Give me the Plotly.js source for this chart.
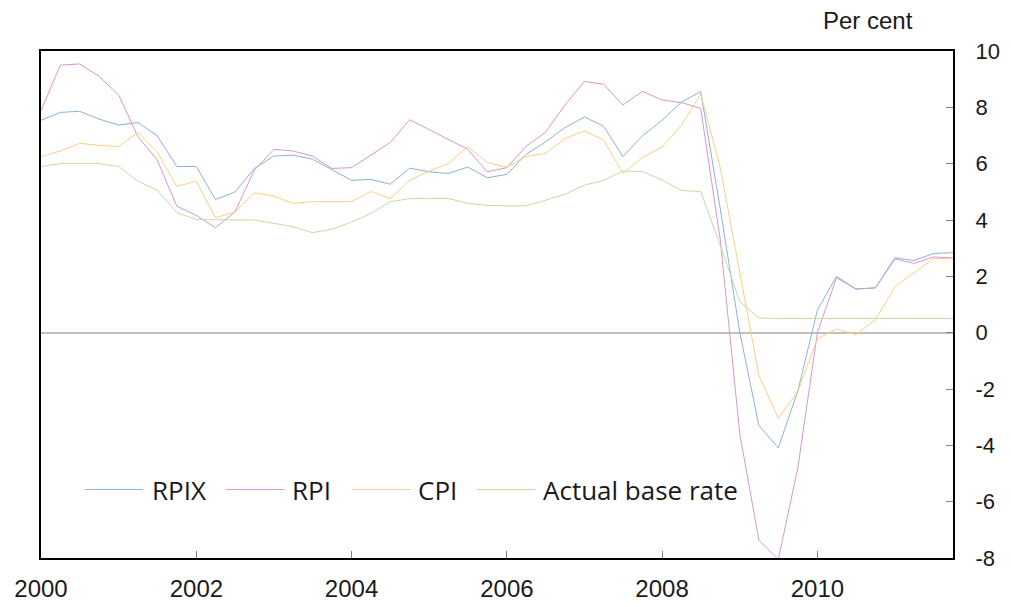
<!DOCTYPE html>
<html>
<head>
<meta charset="utf-8">
<script src="https://cdn.plot.ly/plotly-3.0.1.min.js"></script>
<style>html,body{margin:0;padding:0;background:#fff;}#chart{width:1011px;height:607px;}</style>
</head>
<body>
<div id="chart"></div>
<script>
// Quarterly observations, 2000 Q1 to 2011 Q4
var quarters = [
  '2000-01','2000-04','2000-07','2000-10','2001-01','2001-04','2001-07','2001-10',
  '2002-01','2002-04','2002-07','2002-10','2003-01','2003-04','2003-07','2003-10',
  '2004-01','2004-04','2004-07','2004-10','2005-01','2005-04','2005-07','2005-10',
  '2006-01','2006-04','2006-07','2006-10','2007-01','2007-04','2007-07','2007-10',
  '2008-01','2008-04','2008-07','2008-10','2009-01','2009-04','2009-07','2009-10',
  '2010-01','2010-04','2010-07','2010-10','2011-01','2011-04','2011-07','2011-10'
];
var rpix = [7.54,7.82,7.86,7.58,7.37,7.46,6.99,5.90,5.90,4.73,4.99,5.83,6.27,6.30,6.16,5.80,
            5.41,5.44,5.27,5.84,5.71,5.65,5.88,5.50,5.62,6.33,6.77,7.28,7.66,7.33,6.25,6.99,
            7.54,8.18,8.56,4.40,0.00,-3.30,-4.09,-2.07,0.80,2.00,1.55,1.59,2.66,2.56,2.81,2.84];
var rpi  = [7.88,9.50,9.54,9.10,8.43,6.96,6.13,4.49,4.16,3.73,4.28,5.77,6.51,6.45,6.27,5.83,
            5.86,6.30,6.75,7.56,7.21,6.87,6.51,5.71,5.86,6.61,7.11,8.08,8.92,8.82,8.08,8.57,
            8.26,8.17,7.96,3.30,-3.60,-7.37,-8.05,-4.80,0.00,1.95,1.55,1.59,2.62,2.46,2.69,2.65];
var cpi  = [6.25,6.45,6.72,6.65,6.61,7.11,6.42,5.19,5.38,4.08,4.28,4.97,4.85,4.59,4.65,4.65,
            4.65,5.01,4.76,5.41,5.74,6.00,6.61,6.04,5.88,6.25,6.36,6.89,7.16,6.84,5.66,6.22,
            6.59,7.37,8.47,5.86,2.15,-1.52,-3.04,-2.09,-0.22,0.13,-0.07,0.46,1.63,2.12,2.63,2.63];
var baseRate = [5.90,6.00,6.00,6.00,5.90,5.38,5.06,4.26,4.02,4.00,4.00,4.00,3.87,3.76,3.55,3.67,
                3.93,4.23,4.65,4.76,4.76,4.76,4.59,4.52,4.50,4.50,4.70,4.91,5.24,5.40,5.74,5.72,
                5.42,5.05,5.01,3.10,1.10,0.52,0.50,0.50,0.50,0.50,0.50,0.50,0.50,0.50,0.50,0.50];

var yTickVals = [-8,-6,-4,-2,0,2,4,6,8,10];
var yTickText = ['-8','-6','-4','-2','0','2','4','6','8','10'];

var seriesNames  = ['RPIX','RPI','CPI','Actual base rate'];
var seriesValues = [rpix, rpi, cpi, baseRate];
var seriesColors = ['#8db3d3','#d597d0','#f9cf83','#c3dca5'];

var traces = seriesNames.map(function(n, i){
  return {x: quarters, y: seriesValues[i], name: n, type: 'scatter', mode: 'lines',
          line: {color: seriesColors[i], width: 1}, showlegend: false};
});

// hand-placed legend keys (paper coordinates)
var legendLineX = [[0.048,0.112],[0.203,0.267],[0.341,0.405],[0.478,0.542]];
var legendTextX = [0.120,0.273,0.411,0.548];
var legendY = 0.135;
var shapes = [], annotations = [];
seriesNames.forEach(function(n, i){
  shapes.push({type:'line', xref:'paper', yref:'paper', x0:legendLineX[i][0], x1:legendLineX[i][1],
               y0:legendY, y1:legendY, line:{color:seriesColors[i], width:1}});
  annotations.push({xref:'paper', yref:'paper', x:legendTextX[i], y:legendY, xanchor:'left', yanchor:'middle',
                    text:n, showarrow:false, font:{family:'Open Sans, sans-serif', size:26, color:'#1a1a1a'}});
});
annotations.push({xref:'paper', yref:'paper', x:0.958, y:1.061, xanchor:'right', yanchor:'middle',
                  text:'Per cent', showarrow:false, font:{family:'Liberation Sans, Arial, sans-serif', size:24, color:'#1a1a1a'}});

var layout = {
  width: 1011, height: 607,
  margin: {l: 41, r: 58, t: 51, b: 49},
  paper_bgcolor: '#ffffff', plot_bgcolor: '#ffffff',
  showlegend: false,
  xaxis: {
    type: 'date', range: ['2000-01-01','2011-10-01'],
    tick0: '2000-01-01', dtick: 'M24', tickformat: '%Y',
    ticks: 'inside', ticklen: 7, tickwidth: 1, tickcolor: '#808080',
    showline: true, linecolor: '#000000', linewidth: 2, mirror: true,
    showgrid: false, zeroline: false,
    ticklabelstandoff: 8,
    tickfont: {family: 'Liberation Sans, Arial, sans-serif', size: 24, color: '#1a1a1a'}
  },
  yaxis: {
    side: 'right', range: [-8, 10], tickmode: 'array', tickvals: yTickVals, ticktext: yTickText,
    ticks: 'inside', ticklen: 7, tickwidth: 1, tickcolor: '#808080',
    showline: true, linecolor: '#000000', linewidth: 2, mirror: true,
    showgrid: false, zeroline: true, zerolinecolor: '#c0c0c0', zerolinewidth: 2,
    ticklabelstandoff: 16,
    tickfont: {family: 'Liberation Sans, Arial, sans-serif', size: 22, color: '#1a1a1a'}
  },
  shapes: shapes,
  annotations: annotations
};

Plotly.newPlot('chart', traces, layout, {staticPlot: true, displayModeBar: false});
</script>
</body>
</html>
